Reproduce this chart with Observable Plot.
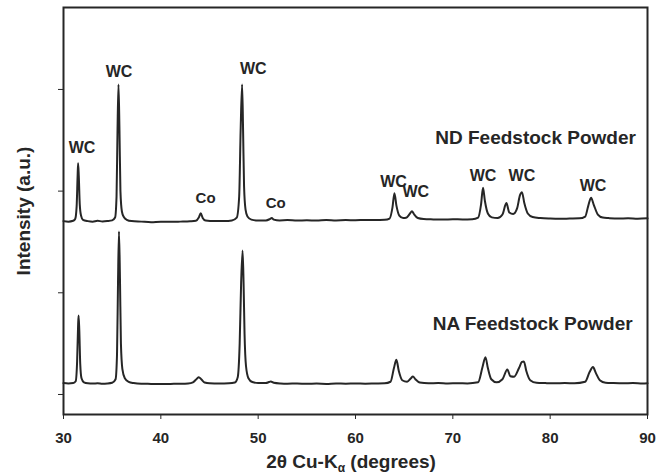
<!DOCTYPE html>
<html>
<head>
<meta charset="utf-8">
<script src="https://cdn.jsdelivr.net/npm/d3@7"></script>
<script src="https://cdn.jsdelivr.net/npm/@observablehq/plot@0.6"></script>
<style>
  html, body { margin: 0; padding: 0; background: #fff; }
  #chart { width: 666px; height: 476px; }
</style>
</head>
<body>
<div id="chart"></div>
<script>
// ND Feedstock Powder pattern (2θ, intensity a.u.)
const ndTheta = [30.0,30.5,31.0,31.2,31.35,31.45,31.5,31.57,31.67,31.8,32.0,32.5,33.0,33.5,34.0,34.5,35.0,35.3,35.45,35.55,35.65,35.75,35.85,36.0,36.2,36.5,37.0,38,39,40,41,42,43,43.6,43.9,44.1,44.3,44.6,45.5,46.5,47.3,47.8,48.05,48.2,48.35,48.45,48.55,48.7,48.9,49.3,50,50.8,51.2,51.4,51.6,52.2,53,54,55,56,57,58,59,60,61,62,63,63.5,63.8,64.0,64.2,64.5,64.9,65.2,65.6,65.8,66.0,66.4,67,68,69,70,71,72,72.6,72.9,73.1,73.3,73.6,74,74.6,75.1,75.5,75.8,76.2,76.6,76.9,77.1,77.35,77.7,78.2,79,80,81,82,83,83.6,83.9,84.2,84.5,84.9,85.4,86,87,88,89,90];
const ndCounts = [1705,1700,1708,1725,1850,2150,2275,2150,1870,1760,1718,1705,1700,1708,1702,1705,1712,1740,1950,2600,3049,2600,2000,1800,1745,1718,1705,1700,1695,1700,1698,1700,1703,1708,1740,1783,1735,1710,1705,1706,1712,1740,1950,2600,3049,2600,2050,1820,1750,1720,1710,1712,1725,1735,1720,1712,1715,1710,1714,1710,1716,1712,1715,1714,1716,1715,1718,1730,1840,1980,1860,1760,1735,1738,1780,1803,1775,1735,1725,1722,1720,1724,1722,1724,1740,1870,2033,1900,1780,1742,1735,1770,1882,1790,1775,1830,1960,1990,1880,1780,1745,1735,1730,1728,1730,1732,1750,1850,1935,1860,1770,1740,1735,1730,1733,1728,1732];

// NA Feedstock Powder pattern (2θ, intensity a.u.)
const naTheta = [30.0,30.5,31.0,31.25,31.4,31.5,31.55,31.62,31.72,31.85,32.1,32.5,33,33.5,34,34.5,35.0,35.35,35.5,35.6,35.7,35.8,35.9,36.05,36.3,36.7,37.2,38,39,40,41,42,42.8,43.3,43.7,43.9,44.15,44.5,45,46,47,47.6,47.9,48.1,48.25,48.4,48.5,48.6,48.75,49,49.4,50,50.8,51.1,51.3,51.6,52.3,53,54,55,56,57,58,59,60,61,62,63,63.6,63.95,64.2,64.45,64.8,65.3,65.7,65.9,66.15,66.6,67.5,68.5,69.5,70.5,71.5,72.6,73.05,73.35,73.6,73.95,74.5,75.1,75.6,75.9,76.3,76.8,77.1,77.3,77.55,77.95,78.6,79.5,80.5,81.5,82.5,83.6,84.05,84.4,84.7,85.1,85.7,86.5,87.5,88.5,89.5,90];
const naCounts = [112,108,112,130,330,680,777,640,300,160,120,110,108,110,106,108,115,150,400,1100,1603,1150,500,250,160,125,112,105,104,103,104,105,108,120,155,170,150,118,110,108,110,118,170,500,1100,1416,1100,600,280,160,122,112,112,122,128,115,108,106,108,105,107,104,108,106,109,106,108,110,125,260,341,230,140,125,160,177,150,118,110,112,108,111,109,120,270,367,260,150,120,150,246,180,175,260,320,325,230,140,115,112,110,113,110,125,220,269,210,140,115,112,110,113,109,111];

// Peak labels
const peakText = ["WC","WC","WC","WC","WC","WC","WC","WC"];
const peakTheta = [31.9,35.7,49.5,63.9,66.2,73.1,77.1,84.4];
const peakY = [2430,3170,3204,2095,1990,2147,2147,2056];
const coText = ["Co","Co"];
const coTheta = [44.6,51.8];
const coY = [1931,1879];

// Series names
const seriesText = ["ND Feedstock Powder","NA Feedstock Powder"];
const seriesTheta = [78.5,78.2];
const seriesY = [2528,698];

// Axis ticks
const xTicks = [30,40,50,60,70,80,90];
const yTicks = [0,1000,2000,3000];

const nd = ndTheta.map((t,i) => ({theta: t, v: ndCounts[i]}));
const na = naTheta.map((t,i) => ({theta: t, v: naCounts[i]}));
const peaks = peakText.map((s,i) => ({s, theta: peakTheta[i], v: peakY[i]}));
const cos = coText.map((s,i) => ({s, theta: coTheta[i], v: coY[i]}));
const series = seriesText.map((s,i) => ({s, theta: seriesTheta[i], v: seriesY[i]}));

const ink = "#262626";
const font = "'Liberation Sans', Arial, Helvetica, sans-serif";

const chart = Plot.plot({
  width: 666,
  height: 476,
  marginLeft: 63,
  marginRight: 19,
  marginTop: 7,
  marginBottom: 62,
  style: {fontFamily: font, fontWeight: "bold", fontSize: "15px", color: ink, background: "#fff"},
  x: {domain: [30, 90], ticks: xTicks, tickSize: 5, tickPadding: 13, label: null},
  y: {domain: [-197, 3806], ticks: yTicks, tickFormat: () => "", tickSize: 5, label: null},
  marks: [
    Plot.line(nd, {x: "theta", y: "v", stroke: ink, strokeWidth: 2, curve: "monotone-x"}),
    Plot.line(na, {x: "theta", y: "v", stroke: ink, strokeWidth: 2, curve: "monotone-x"}),
    Plot.text(peaks, {x: "theta", y: "v", text: "s", fontSize: 16, fontWeight: "bold", fill: ink}),
    Plot.text(cos, {x: "theta", y: "v", text: "s", fontSize: 15, fontWeight: "bold", fill: ink}),
    Plot.text(series, {x: "theta", y: "v", text: "s", fontSize: 19, fontWeight: "bold", fill: ink}),
    Plot.text(["Intensity (a.u.)"], {frameAnchor: "left", textAnchor: "middle", dx: -40, rotate: -90, text: d => d, fontSize: 19, fontWeight: "bold", fill: ink}),
    Plot.frame({stroke: ink, strokeWidth: 2})
  ]
});

// x-axis title with subscript alpha
const svg = d3.select(chart);
const xt = svg.append("text")
  .attr("x", 351)
  .attr("y", 468)
  .attr("text-anchor", "middle")
  .attr("fill", ink)
  .style("font-family", font)
  .style("font-weight", "bold")
  .style("font-size", "19px");
xt.append("tspan").text("2θ Cu-K");
xt.append("tspan").attr("dy", 4).style("font-size", "12px").text("α");
xt.append("tspan").attr("dy", -4).text(" (degrees)");

document.getElementById("chart").appendChild(chart);
</script>
</body>
</html>
